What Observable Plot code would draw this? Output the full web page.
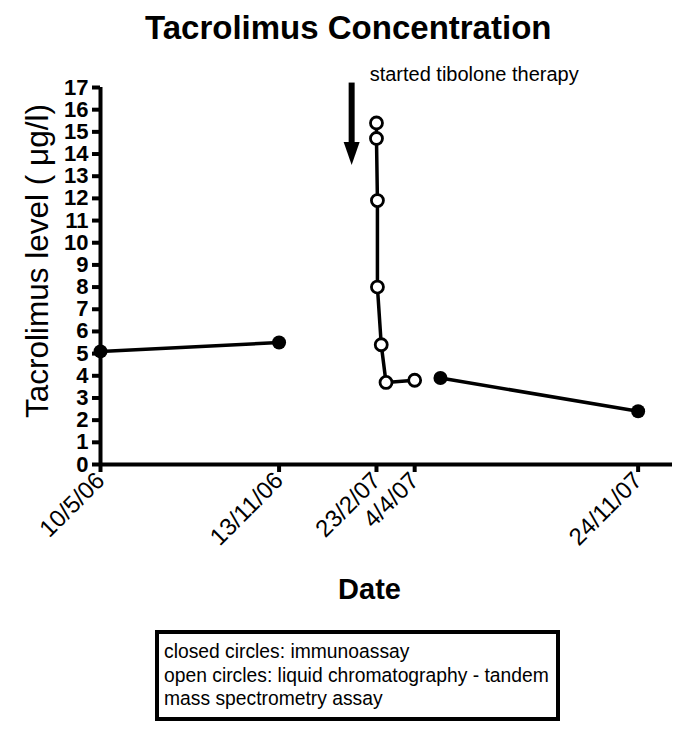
<!DOCTYPE html>
<html>
<head>
<meta charset="utf-8">
<script src="https://cdn.jsdelivr.net/npm/d3@7"></script>
<script src="https://cdn.jsdelivr.net/npm/@observablehq/plot@0.6"></script>
<style>
  html, body { margin: 0; padding: 0; background: #fff; }
  body { width: 685px; height: 736px; position: relative; font-family: "Liberation Sans", Arial, sans-serif; color: #000; overflow: hidden; }
  #title { height: 55px; line-height: 55px; font-size: 33px; font-weight: bold; padding-left: 145px; white-space: nowrap; }
  #chart svg { display: block; }
  #legend { position: absolute; left: 155px; top: 630px; width: 392px; height: 83px; border: 4.5px solid #000;
            font-size: 19.3px; line-height: 23.5px; padding: 0 0 0 5px; box-sizing: content-box; white-space: nowrap; }
  #legend div:first-child { margin-top: 6px; }
</style>
</head>
<body>
<div id="title">Tacrolimus Concentration</div>
<div id="chart"></div>
<div id="legend"></div>
<script>
// ---- data ----
const closedDates   = ["2006-05-10", "2006-11-13", "2007-05-01", "2007-11-24"];
const closedValues  = [5.1, 5.5, 3.9, 2.4];
const closedSegment = [1, 1, 2, 2];

const openDates  = ["2007-02-23", "2007-02-23", "2007-02-24", "2007-02-24", "2007-02-28", "2007-03-05", "2007-04-04"];
const openValues = [15.4, 14.7, 11.9, 8.0, 5.4, 3.7, 3.8];

const xTickDates  = ["2006-05-10", "2006-11-13", "2007-02-23", "2007-04-04", "2007-11-24"];
const xTickLabels = ["10/5/06", "13/11/06", "23/2/07", "4/4/07", "24/11/07"];
const xDomainDates = ["2006-05-10", "2007-12-30"];
const yTicks = [0, 1, 2, 3, 4, 5, 6, 7, 8, 9, 10, 11, 12, 13, 14, 15, 16, 17];
const yDomain = [0, 17];

const annotationDate = ["2007-01-28"];
const annotationText = ["started tibolone therapy"];
const arrowTop = [17.2];
const arrowTip = [13.5];

const yLabel = ["Tacrolimus level ( μg/l)"];
const xLabel = ["Date"];
const legendLines = [
  "closed circles: immunoassay",
  "open circles: liquid chromatography - tandem",
  "mass spectrometry assay"
];

// ---- build ----
const parse = d3.utcParse("%Y-%m-%d");
const closed = closedDates.map((d, i) => ({date: parse(d), value: closedValues[i], seg: closedSegment[i]}));
const open = openDates.map((d, i) => ({date: parse(d), value: openValues[i]}));
const xTicks = xTickDates.map(parse);
const labelOf = new Map(xTicks.map((d, i) => [+d, xTickLabels[i]]));
const xDomain = xDomainDates.map(parse);
const arrow = annotationDate.map((d, i) => ({date: parse(d), top: arrowTop[i], tip: arrowTip[i], text: annotationText[i]}));

// filled, downward-pointing arrowhead whose tip is at the dot position
const arrowHead = {
  draw(context) {
    context.moveTo(-8, -23);
    context.lineTo(8, -23);
    context.lineTo(0, 0);
    context.closePath();
  }
};

const chart = Plot.plot({
  width: 685,
  height: 570,
  marginLeft: 100,
  marginRight: 13,
  marginTop: 32,
  marginBottom: 161,
  x: {type: "utc", domain: xDomain},
  y: {domain: yDomain},
  style: {fontFamily: "Liberation Sans, Arial, sans-serif", color: "#000", background: "#fff", overflow: "visible"},
  marks: [
    Plot.axisY({ticks: yTicks, tickSize: 8, tickPadding: 4, strokeWidth: 4, fontSize: 22, fontWeight: "bold", label: null}),
    Plot.axisX({ticks: xTicks, tickFormat: d => labelOf.get(+d), tickSize: 8, tickPadding: 4, strokeWidth: 4,
                tickRotate: -45, fontSize: 24, label: null}),
    Plot.ruleY([yDomain[0]], {strokeWidth: 4}),
    Plot.ruleX([xDomain[0]], {y1: yDomain[0], y2: yDomain[1], strokeWidth: 4}),
    Plot.line(closed, {x: "date", y: "value", z: "seg", stroke: "#000", strokeWidth: 3.5}),
    Plot.dot(closed, {x: "date", y: "value", r: 7, fill: "#000"}),
    Plot.line(open, {x: "date", y: "value", stroke: "#000", strokeWidth: 3.5}),
    Plot.dot(open, {x: "date", y: "value", r: 6, fill: "#fff", stroke: "#000", strokeWidth: 2.8}),
    Plot.ruleX(arrow, {x: "date", y1: "top", y2: "tip", strokeWidth: 6, insetBottom: 18}),
    Plot.dot(arrow, {x: "date", y: "tip", symbol: arrowHead, fill: "#000", r: 5}),
    Plot.text(arrow, {x: "date", y: "top", text: "text", dx: 18, dy: -8, textAnchor: "start", fontSize: 20}),
    Plot.text(yLabel, {frameAnchor: "left", textAnchor: "middle", rotate: -90, dx: -63, dy: -15, fontSize: 31.5}),
    Plot.text(xLabel, {frameAnchor: "bottom", lineAnchor: "middle", dy: 125, dx: -17, fontSize: 29, fontWeight: "bold"})
  ]
});
document.getElementById("chart").appendChild(chart);

const legend = document.getElementById("legend");
for (const line of legendLines) {
  const div = document.createElement("div");
  div.textContent = line;
  legend.appendChild(div);
}
</script>
</body>
</html>
